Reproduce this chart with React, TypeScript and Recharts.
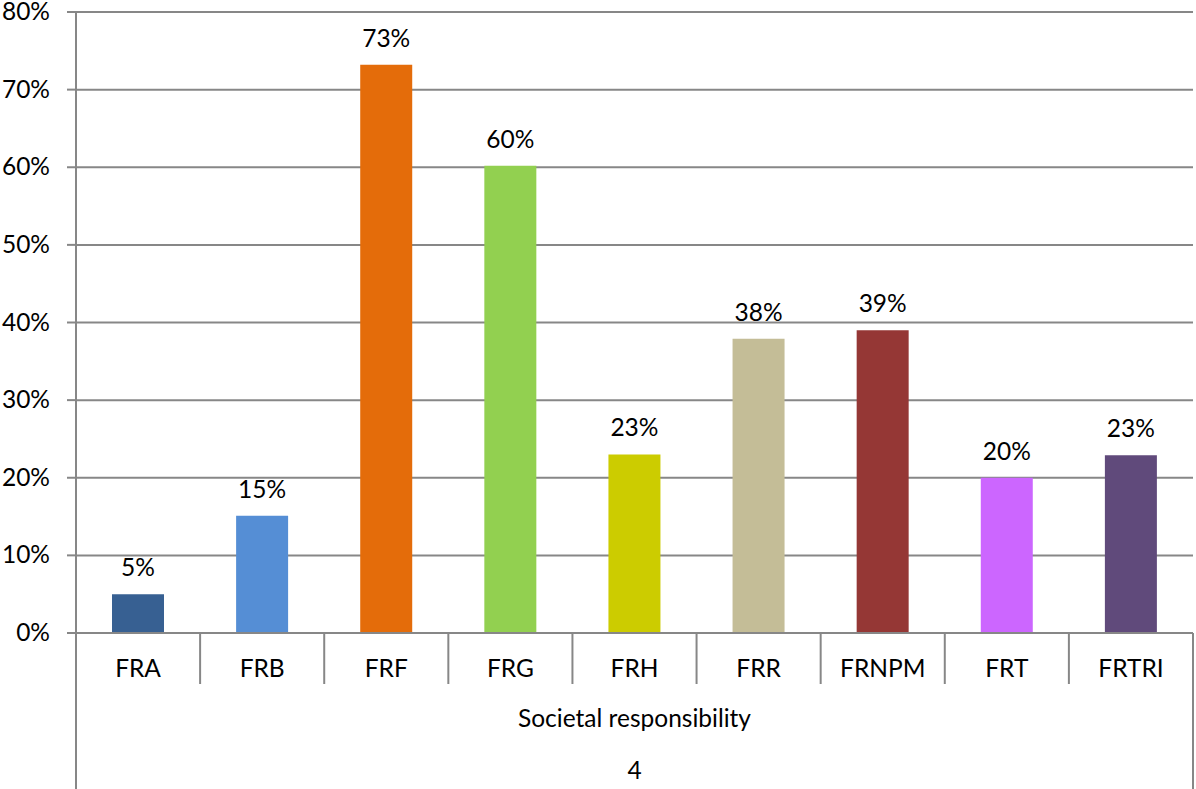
import React from "react";
import { BarChart, Bar, XAxis, YAxis, CartesianGrid, Cell, LabelList } from "recharts";

const categories = ["FRA", "FRB", "FRF", "FRG", "FRH", "FRR", "FRNPM", "FRT", "FRTRI"];
const values = [0.05, 0.151, 0.732, 0.602, 0.23, 0.379, 0.39, 0.2, 0.229];
const colors = ["#376092", "#558ED5", "#E46C0A", "#92D050", "#CCCC00", "#C4BD97", "#953735", "#CC66FF", "#604A7B"];
const yTicks = [0, 0.1, 0.2, 0.3, 0.4, 0.5, 0.6, 0.7, 0.8];
const groupLabel = "Societal responsibility";
const levelLabel = "4";

const data = categories.map((c, i) => ({ name: c, value: values[i] }));

const FONT = "Lato, 'Open Sans', sans-serif";
const FS = 24.5;
const GRID = "#878787";
const TEXT = "#000000";
const LEVEL1_H = 51;

const pct = (v: number) => `${Math.round(v * 100)}%`;

const CategoryTick = (props: any) => {
  const { x, y, payload, index, visibleTicksCount } = props;
  const half = payload && payload.offset ? payload.offset : 0;
  const last = index === (visibleTicksCount ?? categories.length) - 1;
  return (
    <g>
      <text x={x} y={y + 44} textAnchor="middle" fontFamily={FONT} fontSize={FS} fill={TEXT}>
        {payload.value}
      </text>
      {index > 0 && (
        <line x1={x - half} x2={x - half} y1={y} y2={y + LEVEL1_H} stroke={GRID} strokeWidth={2} />
      )}
      {last && (
        <line x1={x + half} x2={x + half} y1={y} y2={y + 156} stroke={GRID} strokeWidth={2} />
      )}
    </g>
  );
};

const GroupLabel = (props: any) => {
  const vb = props.viewBox || {};
  const { x, y, width, height } = vb;
  const cx = x + width / 2;
  return (
    <g>
      <line x1={x} x2={x} y1={y} y2={y + height} stroke={GRID} strokeWidth={2} />
      <text x={cx} y={y + 94} textAnchor="middle" fontFamily={FONT} fontSize={FS} fill={TEXT}>
        {groupLabel}
      </text>
      <text x={cx} y={y + 146} textAnchor="middle" fontFamily={FONT} fontSize={FS} fill={TEXT}>
        {levelLabel}
      </text>
    </g>
  );
};

const YTick = (props: any) => {
  const { x, y, payload } = props;
  return (
    <text x={x} y={y + 8} textAnchor="end" fontFamily={FONT} fontSize={FS} fill={TEXT}>
      {pct(payload.value)}
    </text>
  );
};

export default function App() {
  return (
    <div style={{ position: "absolute", left: 0, top: 0, width: 1196, height: 789, background: "#fff" }}>
      <BarChart
        width={1196}
        height={789}
        data={data}
        margin={{ top: 12, right: 3, bottom: 0, left: 0 }}
      >
        <CartesianGrid vertical={false} stroke={GRID} strokeWidth={2} />
        <YAxis
          type="number"
          domain={[0, 0.8]}
          ticks={yTicks}
          interval={0}
          width={76}
          axisLine={{ stroke: GRID, strokeWidth: 2 }}
          tickLine={{ stroke: GRID, strokeWidth: 2 }}
          tickSize={9}
          tickMargin={17}
          tick={<YTick />}
        />
        <XAxis
          dataKey="name"
          type="category"
          height={156}
          interval={0}
          tickLine={false}
          tickSize={0}
          tickMargin={0}
          axisLine={{ stroke: GRID, strokeWidth: 2 }}
          tick={<CategoryTick />}
          label={{ content: <GroupLabel /> } as any}
        />
        <Bar dataKey="value" barSize={52} isAnimationActive={false}>
          {data.map((d, i) => (
            <Cell key={d.name} fill={colors[i]} />
          ))}
          <LabelList
            dataKey="value"
            position="top"
            offset={18}
            formatter={(v: any) => pct(Number(v))}
            style={{ fontFamily: FONT, fontSize: FS, fill: TEXT }}
          />
        </Bar>
      </BarChart>
    </div>
  );
}
